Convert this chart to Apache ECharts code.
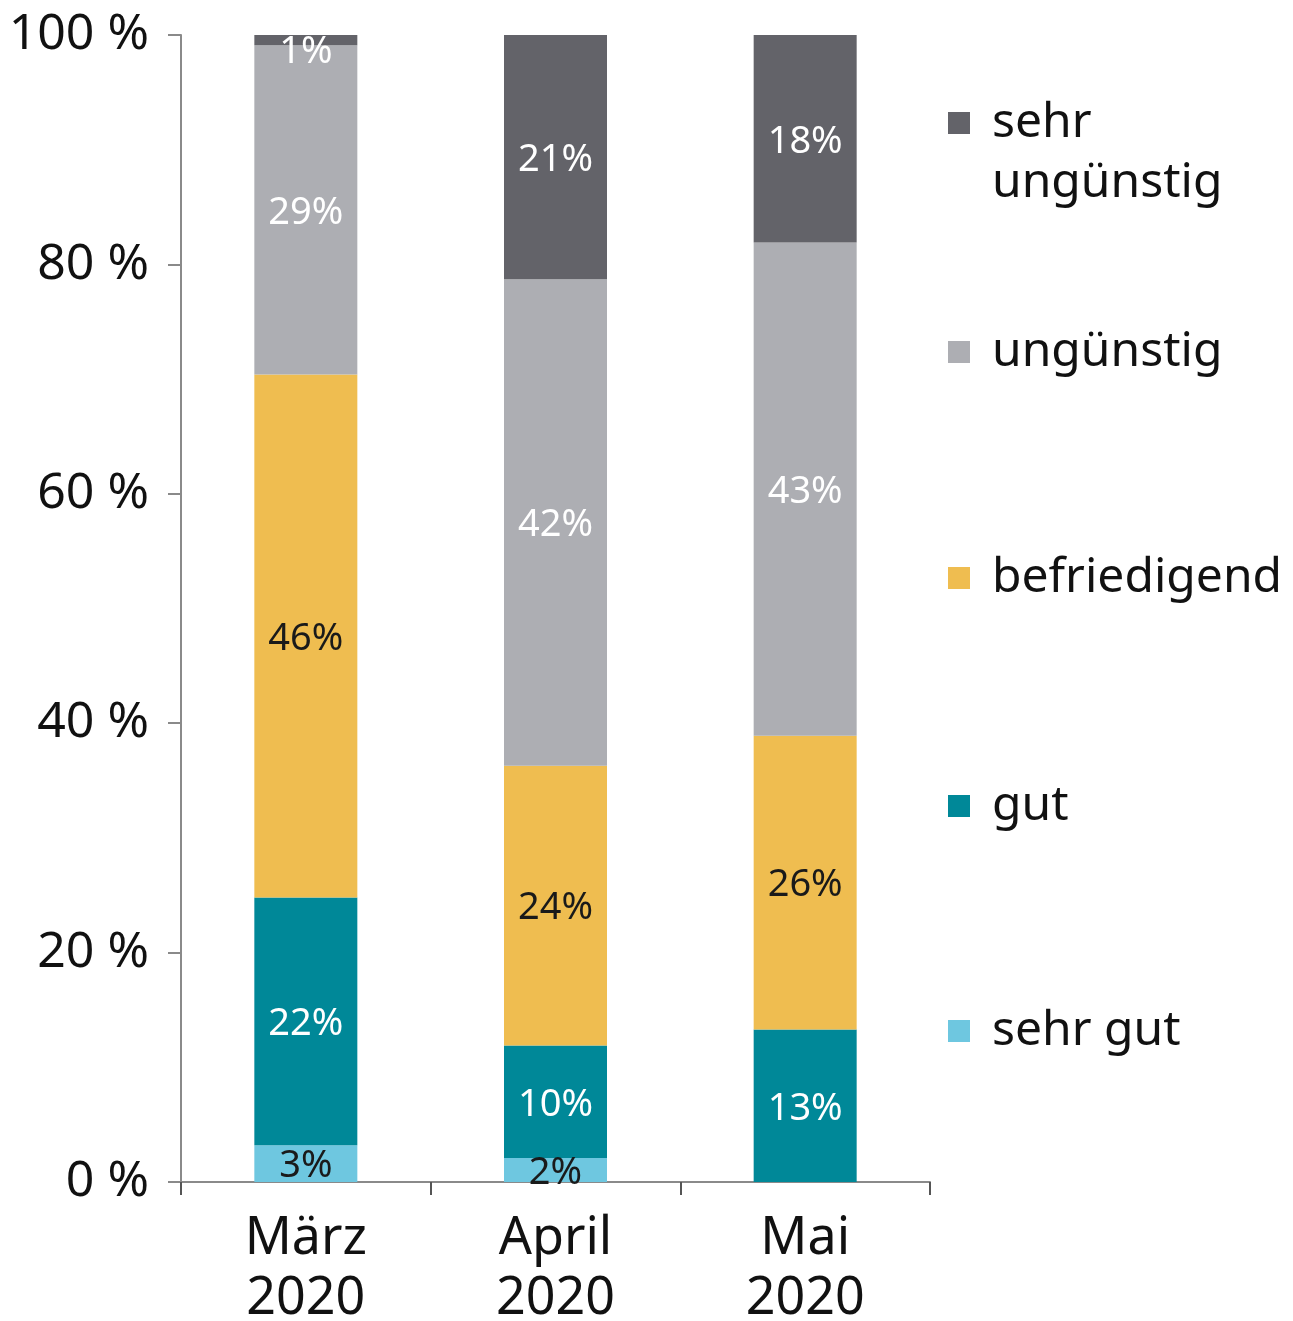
<!DOCTYPE html>
<html>
<head>
<meta charset="utf-8">
<script src="https://cdn.jsdelivr.net/npm/echarts@6/dist/echarts.min.js"></script>
<style>
  html, body { margin: 0; padding: 0; background: #fff; }
  #chart { width: 1293px; height: 1321px; }
</style>
</head>
<body>
<div id="chart"></div>
<script>
  // Monate
  var categories = ['März\n2020', 'April\n2020', 'Mai\n2020'];
  var yTicks = [0, 20, 40, 60, 80, 100];

  var sehrGut = [3.2, 2.1, 0];
  var gut = [21.6, 9.8, 13.3];
  var befriedigend = [45.6, 24.4, 25.6];
  var unguenstig = [28.7, 42.4, 43.0];
  var sehrUnguenstig = [0.9, 21.3, 18.1];

  var seriesNames = ['sehr gut', 'gut', 'befriedigend', 'ungünstig', 'sehr ungünstig'];
  var seriesData = [sehrGut, gut, befriedigend, unguenstig, sehrUnguenstig];
  var colors = ['#6ec7e0', '#008898', '#efbd50', '#adaeb3', '#636369'];
  var labelColors = ['#1a1a1a', '#ffffff', '#1a1a1a', '#ffffff', '#ffffff'];
  // Mittelpunkt (y) der Legendensymbole
  var legendCenters = [1031, 806, 578, 352, 123];

  var font = 'Noto Sans';
  var myChart = echarts.init(document.getElementById('chart'));

  var series = seriesNames.map(function (name, i) {
    return {
      name: name,
      type: 'bar',
      stack: 'total',
      barWidth: 103,
      // sehr kleine Segmente: Beschriftung etwas nach unten schieben
      data: seriesData[i].map(function (v) {
        return v > 0 && v < 2 ? { value: v, label: { offset: [0, 12] } } : v;
      }),
      itemStyle: { color: colors[i] },
      label: {
        show: true,
        position: 'inside',
        offset: [0, 3],
        color: labelColors[i],
        fontFamily: font,
        fontSize: 38,
        formatter: function (p) {
          return p.value > 0 ? Math.round(p.value) + '%' : '';
        }
      }
    };
  });

  // eine Legende pro Eintrag, damit die Abstände stimmen
  var legends = seriesNames.map(function (name, i) {
    var twoLines = name === 'sehr ungünstig';
    return {
      data: [name],
      left: 948,
      top: twoLines ? legendCenters[i] - 90 : legendCenters[i] - 30,
      padding: 0,
      icon: 'rect',
      itemWidth: 22,
      itemHeight: 22,
      selectedMode: false,
      formatter: function (n) { return n === 'sehr ungünstig' ? '\nsehr\nungünstig' : n; },
      textStyle: {
        fontFamily: font,
        fontSize: 48,
        lineHeight: 60,
        color: '#111',
        padding: [0, 0, 0, 17]
      }
    };
  });

  var option = {
    backgroundColor: '#fff',
    animation: false,
    legend: legends,
    grid: { left: 181, right: 363, top: 35, bottom: 139, containLabel: false, outerBoundsMode: 'none' },
    xAxis: {
      type: 'category',
      data: categories,
      axisLine: { lineStyle: { color: '#8a8a8a', width: 2 } },
      axisTick: { show: true, length: 13, lineStyle: { color: '#555', width: 2 } },
      axisLabel: {
        fontFamily: font,
        fontSize: 52,
        lineHeight: 60,
        color: '#111',
        margin: 27
      }
    },
    yAxis: {
      type: 'value',
      min: 0,
      max: 100,
      interval: 20,
      axisLine: { show: true, lineStyle: { color: '#8a8a8a', width: 2 } },
      axisTick: { show: true, length: 13, lineStyle: { color: '#8a8a8a', width: 2 } },
      splitLine: { show: false },
      axisLabel: {
        fontFamily: font,
        fontSize: 50,
        color: '#111',
        margin: 32,
        formatter: function (v) { return yTicks.indexOf(v) >= 0 ? v + ' %' : ''; }
      }
    },
    series: series
  };

  myChart.setOption(option);
</script>
</body>
</html>
